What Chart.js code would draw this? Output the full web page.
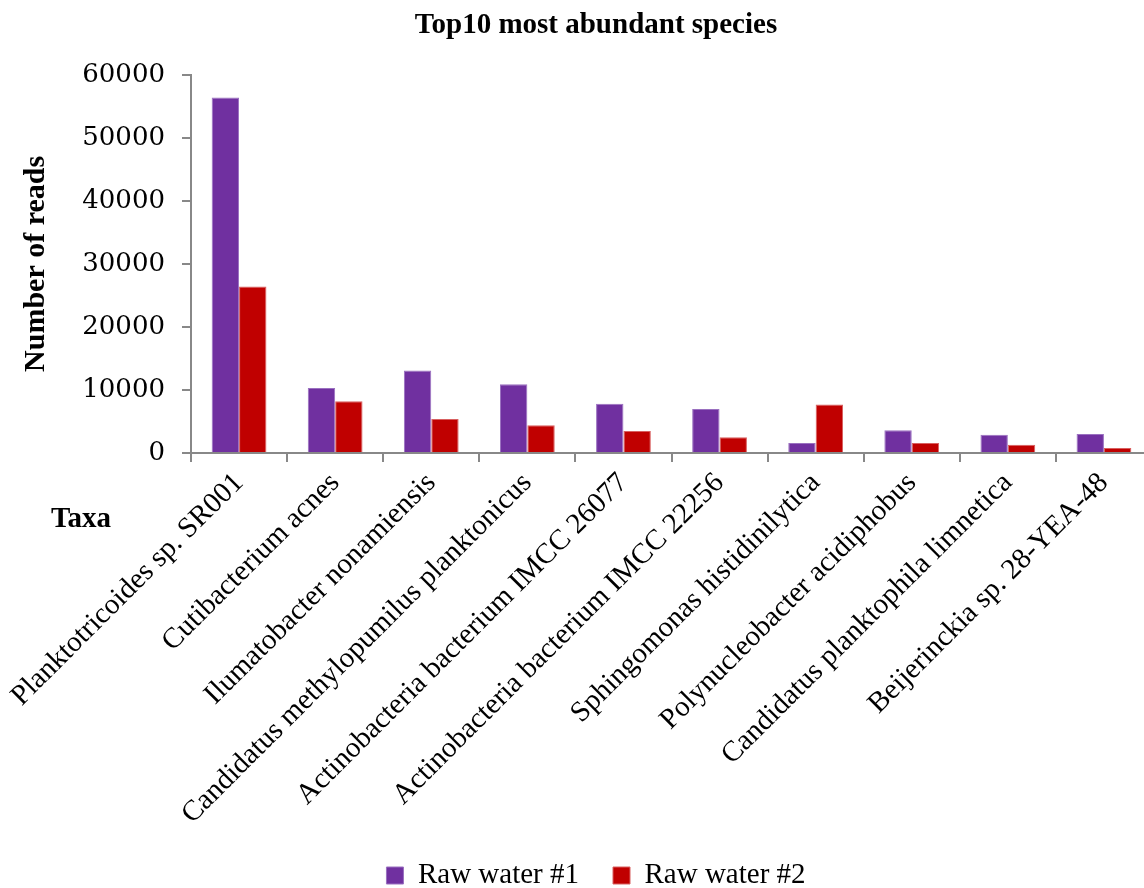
<!DOCTYPE html>
<html>
<head>
<meta charset="utf-8">
<script src="https://cdn.jsdelivr.net/npm/chart.js@4"></script>
<style>
  html, body { margin: 0; padding: 0; background: #fff; overflow: hidden; }
  #wrap { width: 1152px; height: 888px; position: relative; }
</style>
</head>
<body>
<div id="wrap"><canvas id="chart"></canvas></div>
<script>
var taxa = [
    'Planktotricoides sp. SR001',
    'Cutibacterium acnes',
    'Ilumatobacter nonamiensis',
    'Candidatus methylopumilus planktonicus',
    'Actinobacteria bacterium IMCC 26077',
    'Actinobacteria bacterium IMCC 22256',
    'Sphingomonas histidinilytica',
    'Polynucleobacter acidiphobus',
    'Candidatus planktophila limnetica',
    'Beijerinckia sp. 28-YEA-48'
];
var rawWater1 = [56400, 10300, 13100, 10900, 7800, 7000, 1600, 3600, 2900, 3000];
var rawWater2 = [26400, 8200, 5400, 4400, 3500, 2500, 7700, 1600, 1300, 800];
var yTicks = [0, 10000, 20000, 30000, 40000, 50000, 60000];

// "Taxa" label sits at the left, under the axis
var taxaLabel = {
    id: 'taxaLabel',
    afterDraw: function(chart) {
        var c = chart.ctx;
        c.save();
        c.font = 'bold 29px "Liberation Serif"';
        c.fillStyle = '#000';
        c.textAlign = 'center';
        c.textBaseline = 'middle';
        c.fillText('Taxa', 81, 520);
        c.restore();
    }
};

var ctx = document.getElementById('chart').getContext('2d');
var chart = new Chart(ctx, {
    type: 'bar',
    data: {
        labels: taxa,
        datasets: [{
            label: 'Raw water #1',
            data: rawWater1,
            backgroundColor: '#7030A0',
            borderColor: '#9a70c0',
            borderWidth: 1
        }, {
            label: 'Raw water #2',
            data: rawWater2,
            backgroundColor: '#C00000',
            borderColor: '#d86060',
            borderWidth: 1
        }]
    },
    options: {
        responsive: true,
        maintainAspectRatio: false,
        animation: false,
        layout: { padding: { left: 40, right: 0, top: 0, bottom: -12 } },
        datasets: { bar: { categoryPercentage: 0.57, barPercentage: 1 } },
        plugins: {
            title: {
                display: true,
                text: 'Top10 most abundant species',
                color: '#000',
                font: { family: 'Liberation Serif', size: 29, weight: 'bold' },
                padding: { top: 8, bottom: 32 }
            },
            legend: {
                position: 'bottom',
                labels: {
                    color: '#000',
                    boxWidth: 17,
                    boxHeight: 17,
                    padding: 34,
                    font: { family: 'Liberation Serif', size: 29 }
                }
            },
            tooltip: { enabled: false }
        },
        scales: {
            x: {
                afterFit: function(s) { s.height = 374; },
                grid: { drawOnChartArea: false, color: '#888', tickLength: 9, lineWidth: 2 },
                border: { color: '#888', width: 2 },
                ticks: {
                    color: '#000',
                    minRotation: 45,
                    maxRotation: 45,
                    autoSkip: false,
                    padding: 4,
                    font: { family: 'Liberation Serif', size: 29 }
                }
            },
            y: {
                min: 0,
                max: 60000,
                afterFit: function(s) { s.width = 151; },
                afterBuildTicks: function(s) {
                    s.ticks = yTicks.map(function(v) { return { value: v }; });
                },
                grid: { drawOnChartArea: false, color: '#888', tickLength: 9, lineWidth: 2 },
                border: { color: '#888', width: 2 },
                title: {
                    display: true,
                    text: 'Number of reads',
                    color: '#000',
                    padding: { top: -22, bottom: 0 },
                    font: { family: 'Liberation Serif', size: 30, weight: 'bold' }
                },
                ticks: {
                    color: '#000',
                    padding: 17,
                    font: { family: 'DejaVu Serif', size: 26 },
                    callback: function(v) { return String(v); }
                }
            }
        }
    },
    plugins: [taxaLabel]
});
</script>
</body>
</html>
